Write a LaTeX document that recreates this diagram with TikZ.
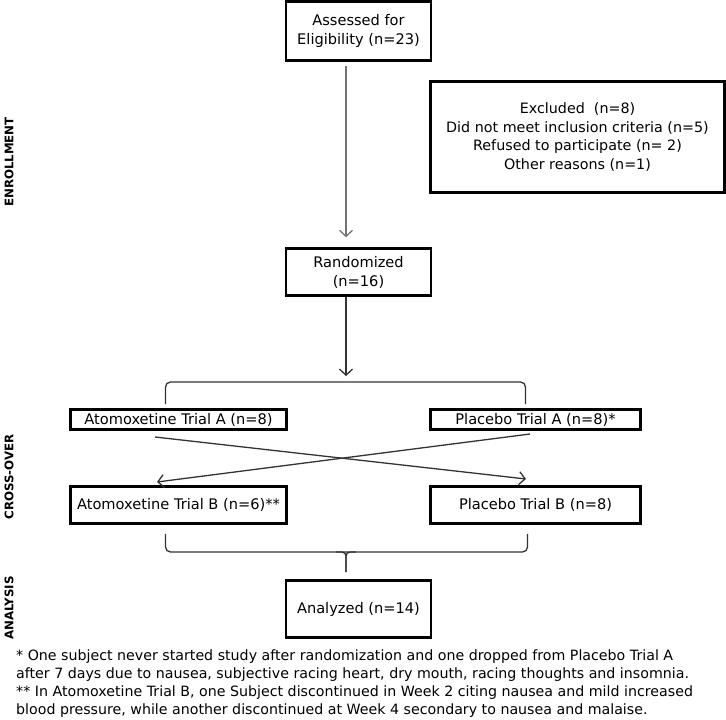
\documentclass[tikz,border=0pt]{standalone}
\usepackage{fontspec}
\setmainfont{DejaVu Sans}
\usetikzlibrary{arrows.meta}

\begin{document}
\begin{tikzpicture}[
		    x=1pt, y=-1pt,
		    box/.style={draw, line width=2.6pt, align=center, inner sep=0pt, font=\fontsize{14.6}{19}\selectfont},
		    link/.style={line width=1.3pt, draw=black!80},
		    arr/.style={link, -{Straight Barb[length=6pt,width=13pt,line width=1.3pt]}},
		    side/.style={rotate=90, font=\bfseries\fontsize{11.8}{13}\selectfont}
		]
		\useasboundingbox (0,0) rectangle (726,720);
		\node[box, minimum width=145, minimum height=59] (Assessed) at (358.5, 31) {Assessed for\\Eligibility (n=23)};
		\node[box, minimum width=294, minimum height=111, font=\fontsize{14.3}{18.5}\selectfont] (Excluded) at (577.5, 137) {Excluded\ \ (n=8)\\Did not meet inclusion criteria (n=5)\\Refused to participate (n= 2)\\Other reasons (n=1)};
		\node[box, minimum width=145, minimum height=47] (Randomized) at (358.5, 272) {Randomized\\(n=16)};
		\node[box, minimum width=216, minimum height=20] (AtoA) at (178.5, 419.5) {Atomoxetine Trial A (n=8)};
		\node[box, minimum width=210, minimum height=20] (PlaA) at (535.5, 419.5) {Placebo Trial A (n=8)*};
		\node[box, minimum width=216, minimum height=37] (AtoB) at (178.5, 505) {Atomoxetine Trial B (n=6)**};
		\node[box, minimum width=210, minimum height=37] (PlaB) at (535.5, 505) {Placebo Trial B (n=8)};
		\node[box, minimum width=145, minimum height=57] (Analyzed) at (358.5, 609) {Analyzed (n=14)};
		% phase labels
		\node[side] (Enrollment) at (9, 162) {ENROLLMENT};
		\node[side] (Crossover) at (9, 477) {CROSS-OVER};
		\node[side] (Analysis) at (9, 608) {ANALYSIS};
		% notes
		\node[anchor=north west, align=left, inner sep=0pt, font=\fontsize{14.2}{18}\selectfont] (Notes) at (16, 650)
		    {* One subject never started study after randomization and one dropped from Placebo Trial A\\
		     after 7 days due to nausea, subjective racing heart, dry mouth, racing thoughts and insomnia.\\
		     ** In Atomoxetine Trial B, one Subject discontinued in Week 2 citing nausea and mild increased\\
		     blood pressure, while another discontinued at Week 4 secondary to nausea and malaise.};
		% connectors
		\coordinate (split) at (346, 376);
		\coordinate (xa) at (155, 437);
		\coordinate (xb) at (526, 479);
		\coordinate (ya) at (530, 434);
		\coordinate (yb) at (157, 482);
		\coordinate (join) at (346, 572);
		\draw[arr, draw=black!55, shorten <=4pt, shorten >=10pt] (Assessed.south -| split) -- (Randomized.north -| split);
		\draw[arr] (Randomized.south -| split) -- (split);
		\draw[link, rounded corners=5pt] (AtoA.north) ++(-13,-4) |- (346, 382) -| ([xshift=-10pt, yshift=4pt]PlaA.north);
		\draw[arr] (xa) -- (xb);
		\draw[arr] (ya) -- (yb);
		\draw[link, rounded corners=5pt] (AtoB.south) ++(-13,9) |- (346, 552) -| ([xshift=-8pt, yshift=-9pt]PlaB.south);
		\draw[link, rounded corners=4pt] (336, 552) -| (join);
		\draw[link, rounded corners=4pt] (356, 552) -| (join);
\end{tikzpicture}
\end{document}
